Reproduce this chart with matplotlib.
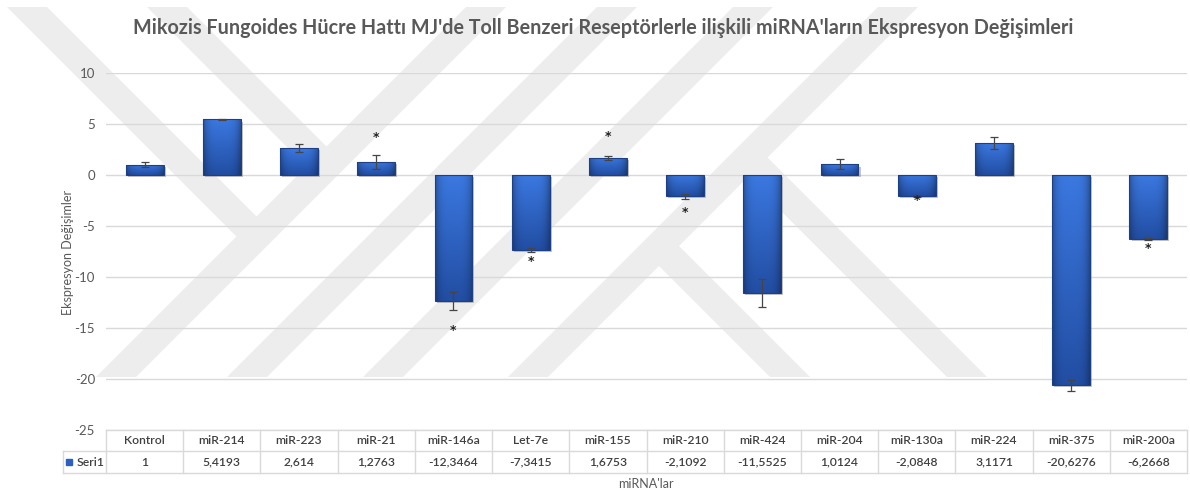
import numpy as np
import matplotlib
matplotlib.use("Agg")
import matplotlib.pyplot as plt
from matplotlib.patches import Polygon
from matplotlib.transforms import blended_transform_factory
from matplotlib import patheffects

plt.rcParams['font.family'] = ['Lato', 'DejaVu Sans']
plt.rcParams['axes.unicode_minus'] = False

# data
categories = ['Kontrol', 'miR-214', 'miR-223', 'miR-21', 'miR-146a', 'Let-7e', 'miR-155',
              'miR-210', 'miR-424', 'miR-204', 'miR-130a', 'miR-224', 'miR-375', 'miR-200a']
values = [1, 5.4193, 2.614, 1.2763, -12.3464, -7.3415, 1.6753,
          -2.1092, -11.5525, 1.0124, -2.0848, 3.1171, -20.6276, -6.2668]
errors = [0.23, 0.08, 0.41, 0.67, 0.9, 0.2, 0.2,
          0.25, 1.35, 0.49, 0.07, 0.62, 0.52, 0.1]
# y of the significance stars (None = no star)
star_y = [None, None, None, 3.66, -15.3, -8.5, 3.76,
          -3.69, None, None, -2.55, None, None, -7.25]
series_name = 'Seri1'

W, H = 1190, 493
fig = plt.figure(figsize=(W / 100, H / 100), dpi=100)

# ---- faint background watermark (figure pixels, y from top) ----
def px(x, y):
    return (x / W, 1 - y / H)

def band(s, y0, y1, slash=True, w=40):
    cx = (lambda y: s - y) if slash else (lambda y: s + y)
    pts = [px(cx(y0) - w / 2, y0), px(cx(y0) + w / 2, y0),
           px(cx(y1) + w / 2, y1), px(cx(y1) - w / 2, y1)]
    fig.patches.append(Polygon(pts, closed=True, transform=fig.transFigure,
                               facecolor='#ededed', edgecolor='none', zorder=-5))

for s in [493, 624, 760, 905]:
    band(s, 7, 377)
band(20, 7, (493 - 20) / 2, slash=False)
band(160, 7, (493 - 160) / 2, slash=False)
band(413, (905 - 413) / 2, 377, slash=False)
band(590, (905 - 590) / 2, 377, slash=False)

# ---- main axes ----
left, right, top, bottom = 106, 1187, 72.7, 430
ax = fig.add_axes([left / W, 1 - bottom / H, (right - left) / W, (bottom - top) / H])
ax.patch.set_alpha(0)

x = np.arange(len(categories))
bw = 0.49

bars = ax.bar(x, values, width=bw, color='#2d5fc0', edgecolor='none', zorder=2,
              path_effects=[patheffects.SimplePatchShadow(offset=(1.5, -1.5),
                                                          shadow_rgbFace='#8c8c8c', alpha=0.5),
                            patheffects.Normal()])

# gradient fill clipped to each bar
c_top = np.array([0x3b, 0x78, 0xe0]) / 255
c_bot = np.array([0x22, 0x4e, 0xa3]) / 255
ny, nx = 64, 32
t = np.linspace(0, 1, ny)[:, None, None]
u = np.linspace(-1, 1, nx)[None, :, None]
img = (c_top * (1 - t) + c_bot * t) * (1 - 0.28 * np.abs(u) ** 4)
for b in bars:
    x0, y0 = b.get_xy()
    y_lo, y_hi = sorted([y0, y0 + b.get_height()])
    im = ax.imshow(img, extent=(x0, x0 + b.get_width(), y_lo, y_hi), aspect='auto',
                   zorder=2.5, interpolation='bilinear')
    im.set_clip_path(b)
ax.bar(x, values, width=bw, fill=False, edgecolor='#1d3f86', linewidth=0.8, zorder=3)

ax.errorbar(x, values, yerr=errors, fmt='none', ecolor='#454545', elinewidth=0.9,
            capsize=3, capthick=0.9, zorder=4)

for i, sy in enumerate(star_y):
    if sy is not None:
        ax.text(x[i], sy, '*', ha='center', va='center', fontsize=9, color='#222222',
                fontweight='bold', zorder=5, family='DejaVu Sans')

ax.set_xlim(-0.5, len(categories) - 0.5)
ax.set_ylim(-25, 10)
ax.set_yticks(range(-25, 11, 5))
ax.set_xticks([])
ax.tick_params(axis='y', length=0, pad=8, labelsize=9.5, labelcolor='#595959')
for sp in ax.spines.values():
    sp.set_visible(False)
ax.yaxis.grid(True, color='#d9d9d9', linewidth=1)
ax.set_axisbelow(True)

# ---- data table under the axis ----
tr = blended_transform_factory(ax.transData, ax.transAxes)
ax_h = bottom - top
r1, r2 = -21 / ax_h, -43 / ax_h
x_lab = -0.5 - (left - 63) / ((right - left) / len(categories))
xr = len(categories) - 0.5
lc = '#d9d9d9'
kw = dict(transform=tr, color=lc, linewidth=1, clip_on=False)
ax.plot([-0.5, xr], [0, 0], **kw)
ax.plot([x_lab, xr], [r1, r1], **kw)
ax.plot([x_lab, xr], [r2, r2], **kw)
ax.plot([x_lab, x_lab], [r1, r2], **kw)
for i in range(len(categories) + 1):
    ax.plot([i - 0.5, i - 0.5], [0, r2], **kw)

tsize = 8.7
for i, (c, v) in enumerate(zip(categories, values)):
    ax.text(i, r1 / 2, c, transform=tr, ha='center', va='center', fontsize=tsize,
            color='#404040', fontweight='semibold')
    ax.text(i, (r1 + r2) / 2, f"{v:g}".replace('.', ','), transform=tr, ha='center',
            va='center', fontsize=tsize, color='#404040', fontweight='semibold')

ax.plot([x_lab + 0.08], [(r1 + r2) / 2], marker='s', markersize=5, color='#2d5fc0',
        transform=tr, clip_on=False)
ax.text(x_lab + 0.17, (r1 + r2) / 2, series_name, transform=tr, ha='left', va='center',
        fontsize=tsize, color='#404040', fontweight='semibold')

# ---- titles ----
fig.text(603 / W, 1 - 28 / H,
         "Mikozis Fungoides Hücre Hattı MJ'de Toll Benzeri Reseptörlerle ilişkili miRNA'ların Ekspresyon Değişimleri",
         ha='center', va='center', fontsize=14.2, fontweight='bold', color='#595959')
fig.text(68 / W, 1 - 252 / H, 'Ekspresyon Değişimler', rotation=90, ha='center', va='center',
         fontsize=9, color='#595959')
fig.text(646 / W, 1 - 484 / H, "miRNA'lar", ha='center', va='center', fontsize=9,
         color='#595959')

fig.savefig('out.png', dpi=100)
